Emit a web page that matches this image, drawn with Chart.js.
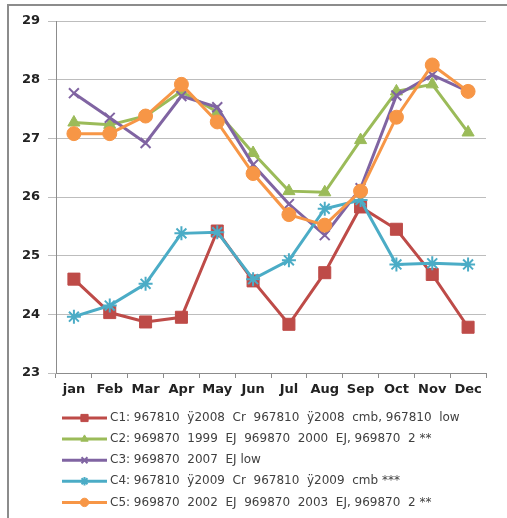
<!DOCTYPE html>
<html>
<head>
<meta charset="utf-8">
<script src="https://cdn.jsdelivr.net/npm/chart.js@4.4.1/dist/chart.umd.min.js"></script>
<style>
  html, body { margin: 0; padding: 0; background: #fff; }
  #wrap { width: 507px; height: 518px; position: relative; }
</style>
</head>
<body>
<div id="wrap"><canvas id="chart" width="507" height="518"></canvas></div>
<script>
// Monthly means for five station/period combinations
const months = ['jan', 'Feb', 'Mar', 'Apr', 'May', 'Jun', 'Jul', 'Aug', 'Sep', 'Oct', 'Nov', 'Dec'];

const seriesNames = [
  'C1: 967810  \u00ff2008  Cr  967810  \u00ff2008  cmb, 967810  low',
  'C2: 969870  1999  EJ  969870  2000  EJ, 969870  2 **',
  'C3: 969870  2007  EJ low',
  'C4: 967810  \u00ff2009  Cr  967810  \u00ff2009  cmb ***',
  'C5: 969870  2002  EJ  969870  2003  EJ, 969870  2 **'
];

const c1 = [24.60, 24.03, 23.87, 23.95, 25.42, 24.57, 23.83, 24.71, 25.83, 25.45, 24.68, 23.78];
const c2 = [27.27, 27.23, 27.38, 27.80, 27.45, 26.75, 26.10, 26.08, 26.97, 27.80, 27.92, 27.10];
const c3 = [27.77, 27.35, 26.92, 27.72, 27.53, 26.55, 25.88, 25.35, 26.15, 27.73, 28.08, 27.80];
const c4 = [23.96, 24.15, 24.52, 25.38, 25.40, 24.60, 24.92, 25.80, 25.95, 24.85, 24.87, 24.85];
const c5 = [27.08, 27.08, 27.38, 27.92, 27.28, 26.40, 25.70, 25.52, 26.10, 27.36, 28.25, 27.80];

const yTicks = [23, 24, 25, 26, 27, 28, 29];

const styles = [
  { color: '#BE4B48', point: 'rect',     radius: 8.5, pointBorder: 1 },
  { color: '#9BBB59', point: 'triangle', radius: 7,   pointBorder: 1 },
  { color: '#8064A2', point: 'crossRot', radius: 7,   pointBorder: 2 },
  { color: '#4BACC6', point: 'star',     radius: 7,   pointBorder: 2 },
  { color: '#F79646', point: 'circle',   radius: 7,   pointBorder: 1 }
];

const values = [c1, c2, c3, c4, c5];

const datasets = values.map((v, i) => ({
  label: seriesNames[i],
  data: v,
  borderColor: styles[i].color,
  backgroundColor: styles[i].color,
  pointBackgroundColor: styles[i].color,
  pointBorderColor: styles[i].color,
  pointStyle: styles[i].point,
  pointRadius: styles[i].radius,
  pointBorderWidth: styles[i].pointBorder,
  borderWidth: 3,
  tension: 0,
  fill: false,
  order: values.length - 1 - i   // later series painted on top
}));

// Frame lines and a vertical legend with line + marker samples
const decorPlugin = {
  id: 'decor',
  beforeDraw(chart) {
    const ctx = chart.ctx;
    ctx.save();
    ctx.fillStyle = '#fff';
    ctx.fillRect(0, 0, chart.width, chart.height);
    ctx.strokeStyle = '#8c8c8c';
    ctx.lineWidth = 2;
    ctx.beginPath();
    ctx.moveTo(8, chart.height);
    ctx.lineTo(8, 5);
    ctx.lineTo(chart.width, 5);
    ctx.stroke();
    ctx.restore();
  },
  afterDraw(chart) {
    const ctx = chart.ctx;
    ctx.save();
    const x0 = 62, x1 = 107, tx = 110;
    chart.data.datasets.forEach((ds, i) => {
      const y = 418 + i * 21.1;
      ctx.strokeStyle = ds.borderColor;
      ctx.fillStyle = ds.borderColor;
      ctx.lineWidth = 3;
      ctx.beginPath();
      ctx.moveTo(x0, y);
      ctx.lineTo(x1, y);
      ctx.stroke();
      ctx.lineWidth = ds.pointBorderWidth;
      Chart.helpers.drawPoint(ctx, {
        pointStyle: ds.pointStyle,
        radius: ds.pointRadius * 0.6,
        borderWidth: ds.pointBorderWidth,
        rotation: 0
      }, (x0 + x1) / 2, y);
      ctx.fillStyle = '#404040';
      ctx.font = '12px "DejaVu Sans"';
      ctx.textBaseline = 'middle';
      ctx.textAlign = 'left';
      ctx.fillText(ds.label, tx, y);
    });
    ctx.restore();
  }
};

const chart = new Chart(document.getElementById('chart'), {
  type: 'line',
  data: { labels: months, datasets },
  options: {
    responsive: false,
    animation: false,
    events: [],
    layout: { padding: { left: 10, top: 21, right: 21, bottom: 115 } },
    plugins: {
      legend: { display: false },
      tooltip: { enabled: false }
    },
    scales: {
      x: {
        offset: true,
        grid: {
          offset: true,
          drawOnChartArea: false,
          drawTicks: true,
          tickLength: 5,
          color: '#8c8c8c'
        },
        border: { color: '#8c8c8c', width: 1 },
        ticks: {
          color: '#222',
          font: { family: '"DejaVu Sans"', size: 13, weight: 'bold' },
          padding: 4,
          maxRotation: 0,
          autoSkip: false
        },
        afterFit(scale) { scale.height = 30; }
      },
      y: {
        min: 23,
        max: 29,
        afterBuildTicks(scale) { scale.ticks = yTicks.map(v => ({ value: v })); },
        grid: {
          color: '#bdbdbd',
          tickLength: 8,
          lineWidth: 1
        },
        border: { color: '#8c8c8c', width: 1 },
        ticks: {
          color: '#222',
          font: { family: '"DejaVu Sans"', size: 13, weight: 'bold' },
          padding: 8
        },
        afterFit(scale) { scale.width = 46; }
      }
    }
  },
  plugins: [decorPlugin]
});
</script>
</body>
</html>
